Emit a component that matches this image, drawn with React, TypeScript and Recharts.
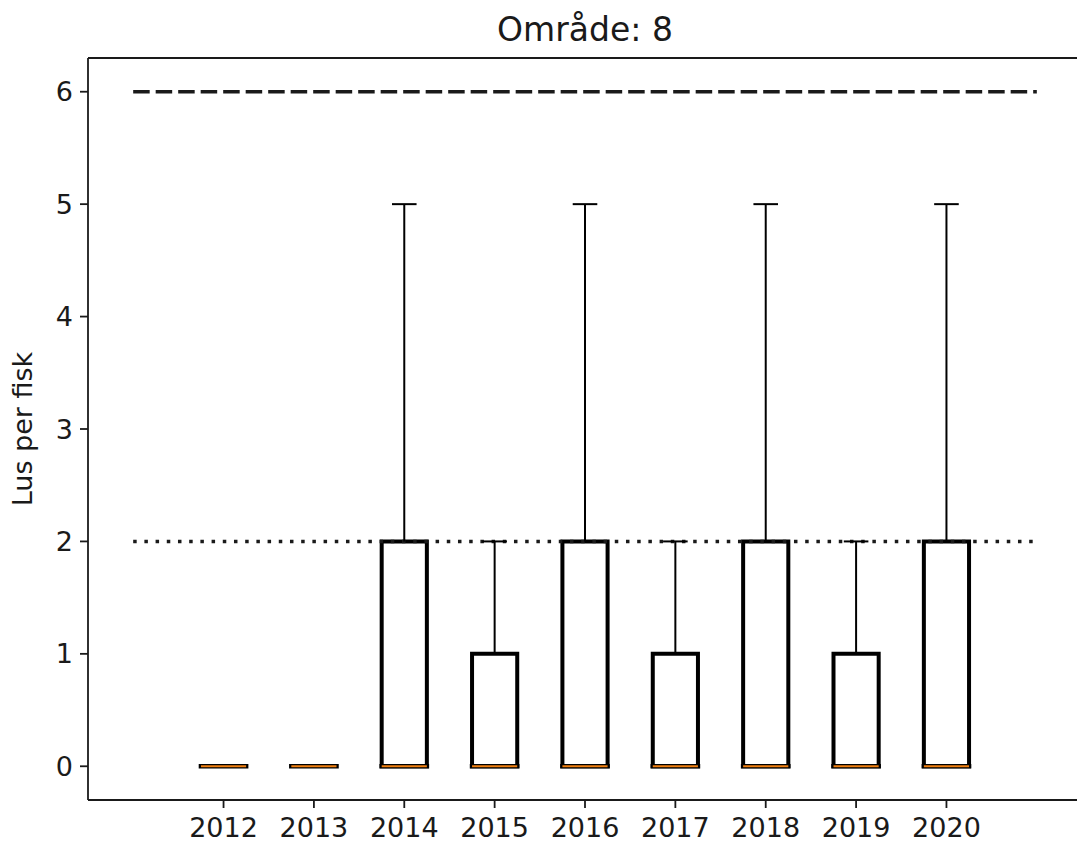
import { ComposedChart, XAxis, YAxis, ReferenceArea, ReferenceLine } from 'recharts';

const years = ['2012', '2013', '2014', '2015', '2016', '2017', '2018', '2019', '2020'];
const lowerWhisker = [0, 0, 0, 0, 0, 0, 0, 0, 0];
const q1 = [0, 0, 0, 0, 0, 0, 0, 0, 0];
const median = [0, 0, 0, 0, 0, 0, 0, 0, 0];
const q3 = [0, 0, 2, 1, 2, 1, 2, 1, 2];
const upperWhisker = [0, 0, 5, 2, 5, 2, 5, 2, 5];
const yTicks = [0, 1, 2, 3, 4, 5, 6];
const yDomain = [-0.3, 6.3];
const xDomain = [-0.5, 10.5];
const dashedLimit = 6;
const dottedLimit = 2;
const limitFrom = 0;
const limitTo = 10;

const positions = years.map((_, i) => i + 1);
const chartData = positions.map((pos, i) => ({ pos, value: median[i] }));

const BOX_HALF = 0.25;
const CAP_HALF = 0.125;
const INK = '#1a1a1a';
const font = 'DejaVu Sans, sans-serif';

export default function App() {
  return (
    <div style={{ position: 'absolute', left: 0, top: 0, width: 1077, height: 847, overflow: 'hidden', background: '#fff' }}>
      <ComposedChart width={1090} height={847} data={chartData} margin={{ top: 58, right: 8, bottom: 0, left: 0 }}>
        <XAxis
          dataKey="pos"
          type="number"
          domain={xDomain}
          allowDataOverflow
          ticks={positions}
          tickFormatter={(v: number) => years[v - 1] ?? ''}
          height={47}
          stroke={INK}
          strokeWidth={1.8}
          tickSize={8}
          tickMargin={10}
          tick={{ fontSize: 27, fill: INK, fontFamily: font }}
        />
        <YAxis
          type="number"
          domain={yDomain}
          allowDataOverflow
          ticks={yTicks}
          width={88}
          stroke={INK}
          strokeWidth={1.8}
          tickSize={8}
          tickMargin={7}
          tick={{ fontSize: 27, fill: INK, fontFamily: font }}
        />
        <ReferenceLine y={yDomain[1]} stroke={INK} strokeWidth={1.8} />
        <ReferenceLine
          segment={[{ x: limitFrom, y: dashedLimit }, { x: limitTo, y: dashedLimit }]}
          stroke={INK}
          strokeWidth={3.5}
          strokeDasharray="16.5 6"
        />
        <ReferenceLine
          segment={[{ x: limitFrom, y: dottedLimit }, { x: limitTo, y: dottedLimit }]}
          stroke={INK}
          strokeWidth={3.5}
          strokeDasharray="3.5 7.7"
        />
        {positions.map((pos, i) =>
          q3[i] > q1[i] ? (
            <ReferenceArea
              key={`box-${pos}`}
              x1={pos - BOX_HALF}
              x2={pos + BOX_HALF}
              y1={q1[i]}
              y2={q3[i]}
              fill="#fff"
              fillOpacity={1}
              stroke="#000"
              strokeWidth={4}
            />
          ) : null
        )}
        {positions.map((pos, i) => (
          <ReferenceLine key={`wu-${pos}`} segment={[{ x: pos, y: q3[i] }, { x: pos, y: upperWhisker[i] }]} stroke="#000" strokeWidth={2} />
        ))}
        {positions.map((pos, i) => (
          <ReferenceLine key={`wl-${pos}`} segment={[{ x: pos, y: q1[i] }, { x: pos, y: lowerWhisker[i] }]} stroke="#000" strokeWidth={2} />
        ))}
        {positions.map((pos, i) => (
          <ReferenceLine
            key={`cu-${pos}`}
            segment={[{ x: pos - CAP_HALF, y: upperWhisker[i] }, { x: pos + CAP_HALF, y: upperWhisker[i] }]}
            stroke="#000"
            strokeWidth={2}
            strokeLinecap="square"
          />
        ))}
        {positions.map((pos, i) => (
          <ReferenceLine
            key={`cl-${pos}`}
            segment={[{ x: pos - CAP_HALF, y: lowerWhisker[i] }, { x: pos + CAP_HALF, y: lowerWhisker[i] }]}
            stroke="#000"
            strokeWidth={2}
            strokeLinecap="square"
          />
        ))}
        {positions.map((pos, i) => (
          <ReferenceLine
            key={`mb-${pos}`}
            segment={[{ x: pos - BOX_HALF, y: median[i] }, { x: pos + BOX_HALF, y: median[i] }]}
            stroke="#000"
            strokeWidth={4.5}
            strokeLinecap="square"
          />
        ))}
        {positions.map((pos, i) => (
          <ReferenceLine
            key={`mo-${pos}`}
            segment={[{ x: pos - BOX_HALF, y: median[i] }, { x: pos + BOX_HALF, y: median[i] }]}
            stroke="#f07f10"
            strokeWidth={2.2}
          />
        ))}
      </ComposedChart>
      <svg width={1077} height={847} style={{ position: 'absolute', left: 0, top: 0, pointerEvents: 'none' }}>
        <text x={585} y={41} textAnchor="middle" fontSize={33} fill={INK} fontFamily={font}>
          Område: 8
        </text>
        <text x={32} y={429} textAnchor="middle" fontSize={27} fill={INK} fontFamily={font} transform="rotate(-90 32 429)">
          Lus per fisk
        </text>
      </svg>
    </div>
  );
}
